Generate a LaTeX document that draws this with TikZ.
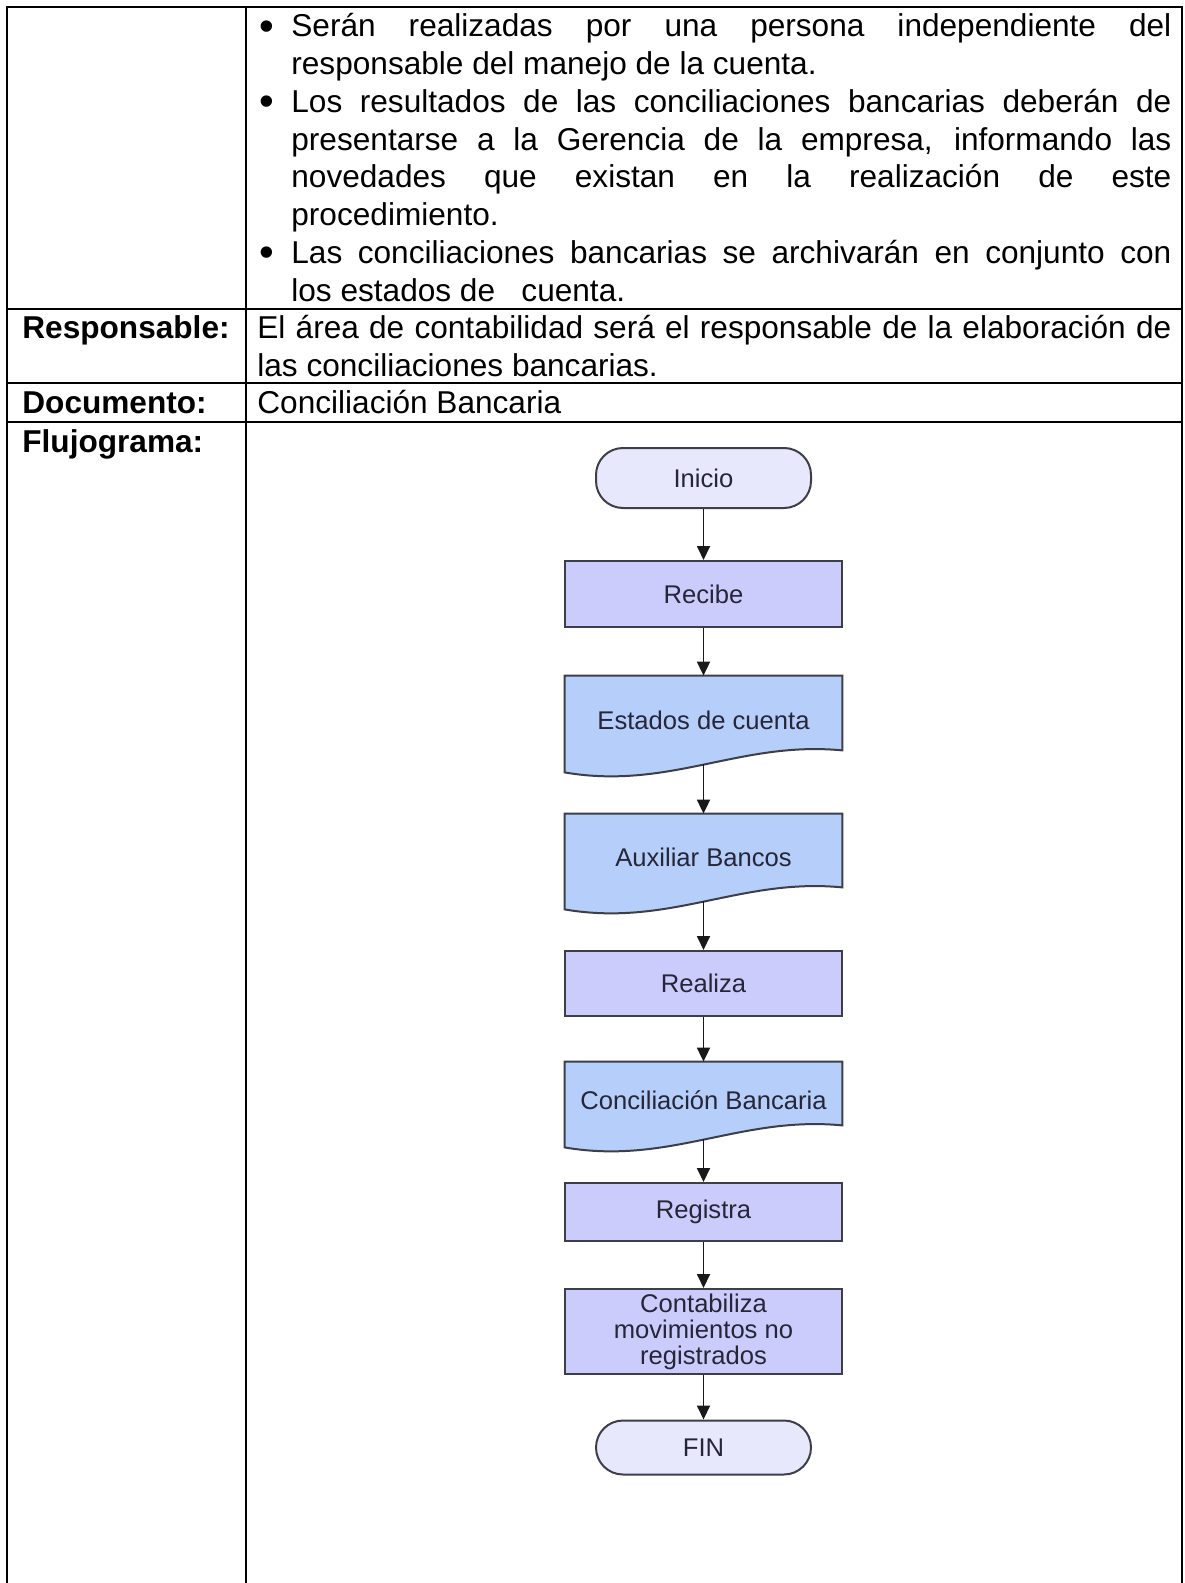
\documentclass[tikz,border=0pt]{standalone}
\usepackage{fontspec}
\setmainfont{Liberation Sans}
\usepackage{xcolor}
\usetikzlibrary{arrows.meta,calc}
\usetikzlibrary{backgrounds}

\definecolor{procfill}{RGB}{204,204,252}
\definecolor{docfill}{RGB}{181,206,250}
\definecolor{termfill}{RGB}{232,232,252}
\definecolor{bordegris}{RGB}{62,62,72}
\definecolor{textoflujo}{RGB}{38,38,56}

\newcommand{\tabfont}{\fontsize{15.8}{18.75}\selectfont}
\newcommand{\flufont}{\fontsize{12.8}{13}\selectfont}
\newcommand{\punto}{\raisebox{-1.6pt}{\fontsize{21}{21}\selectfont\textbullet}}

\tikzset{
	linea/.style={line width=0.8pt},
	celda/.style={anchor=base west, inner sep=0pt, font=\tabfont},
	vineta/.style={anchor=base, inner sep=0pt, font=\tabfont},
	rotulo/.style={celda, font=\tabfont\bfseries},
	proc/.style={draw=bordegris, fill=procfill, line width=1pt, minimum width=138.5pt, text=textoflujo, font=\flufont, align=center, inner sep=0pt},
	term/.style={proc, fill=termfill, minimum width=107.5pt, rounded corners=13.5pt},
	docu/.style={draw=bordegris, fill=docfill, line width=1pt},
	doctext/.style={text=textoflujo, font=\flufont, inner sep=0pt, minimum width=138.5pt},
	flecha/.style={->, line width=0.9pt, black!90},
}

%document shape: name, top, height at right, text
\newcommand{\documento}[4]{%
	\node[doctext, minimum height={(#3+14)*0.5pt}] (#1) at (703.5,{#2+(#3+14)/2}) {#4};
	\begin{scope}[on background layer]
		\draw[docu] (#1.north west) -- (#1.north east) -- ($(#1.south east)+(0,-14)$)
			.. controls ($(#1.south east)+(-102,-24)$) and ($(#1.south west)+(105,26)$) .. ($(#1.south west)+(0,8)$) -- cycle;
	\end{scope}}

\begin{document}
\begin{tikzpicture}[x=0.5pt, y=-0.5pt, >={Triangle[length=7pt,width=6.5pt]}]
	\useasboundingbox (0,0) rectangle (1184,1583);

	%table
	\draw[linea] (7,1583) -- (7,7) -- (1182,7) -- (1182,1583);
	\draw[linea] (246,7) -- (246,1583);
	\foreach \yy in {309,383,422}
		\draw[linea] (7,\yy) -- (1182,\yy);

	%bullets
	\node[vineta] (bul1) at (267,37) {\punto};
	\node[celda] (lin1) at (291,37) {\makebox[440pt][s]{Serán realizadas por una persona independiente del}};
	\node[celda] (lin2) at (291,74.75) {responsable del manejo de la cuenta.};
	\node[vineta] (bul2) at (267,112.5) {\punto};
	\node[celda] (lin3) at (291,112.5) {\makebox[440pt][s]{Los resultados de las conciliaciones bancarias deberán de}};
	\node[celda] (lin4) at (291,150.25) {\makebox[440pt][s]{presentarse a la Gerencia de la empresa, informando las}};
	\node[celda] (lin5) at (291,188) {\makebox[440pt][s]{novedades que existan en la realización de este}};
	\node[celda] (lin6) at (291,225.75) {procedimiento.};
	\node[vineta] (bul3) at (267,263.5) {\punto};
	\node[celda] (lin7) at (291,263.5) {\makebox[440pt][s]{Las conciliaciones bancarias se archivarán en conjunto con}};
	\node[celda] (lin8) at (291,301.25) {los estados de~~~cuenta.};

	%rows
	\node[rotulo] (resp) at (22,339) {Responsable:};
	\node[celda] (resp1) at (257,339) {\makebox[457pt][s]{El área de contabilidad será el responsable de la elaboración de}};
	\node[celda] (resp2) at (257,376.5) {las conciliaciones bancarias.};
	\node[rotulo] (docum) at (22,413) {Documento:};
	\node[celda] (docum1) at (257,413) {Conciliación Bancaria};
	\node[rotulo] (fluj) at (22,452) {Flujograma:};

	%flowchart
	\node[term, minimum height=30pt] (inicio) at (703.5,478) {Inicio};
	\node[proc, minimum height=33pt] (recibe) at (703.5,594) {Recibe};
	\documento{estados}{676}{74}{Estados de cuenta}
	\documento{auxiliar}{814}{73}{Auxiliar Bancos}
	\node[proc, minimum height=32.5pt] (realiza) at (703.5,983.5) {Realiza};
	\documento{conciliacion}{1062}{63}{Conciliación Bancaria}
	\node[proc, minimum height=29pt] (registra) at (703.5,1212) {Registra};
	\node[proc, minimum height=42.5pt] (contabiliza) at (703.5,1331.5) {Contabiliza\\movimientos no\\registrados};
	\node[term, minimum height=27pt] (fin) at (703.5,1447.5) {FIN};

	\foreach \a/\b in {inicio/recibe, recibe/estados, estados/auxiliar, auxiliar/realiza, realiza/conciliacion, conciliacion/registra, registra/contabiliza, contabiliza/fin}
		\draw[flecha] (\a) -- (\b);
\end{tikzpicture}
\end{document}
